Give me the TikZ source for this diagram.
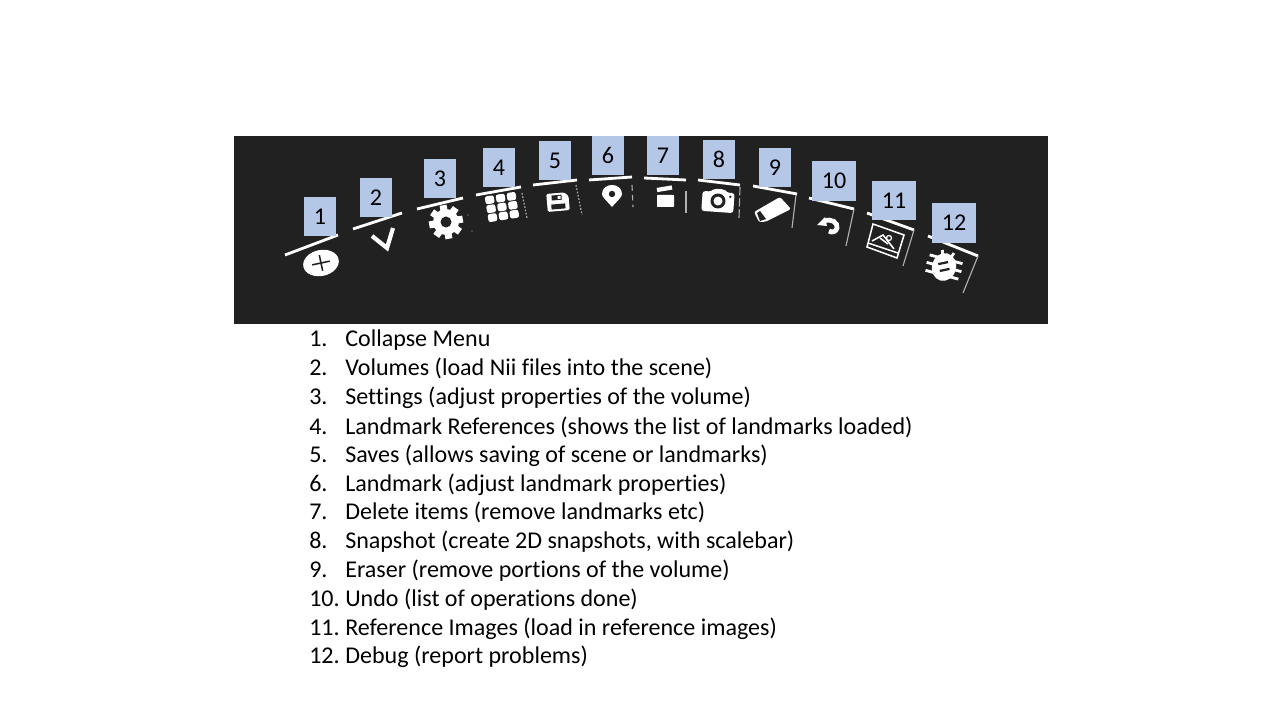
\documentclass[tikz,border=0pt]{standalone}
\usepackage{fontspec}
\setmainfont[Ligatures=NoCommon]{Carlito}
\definecolor{panelgrey}{HTML}{212121}
\definecolor{tagblue}{HTML}{B4C7E7}
\definecolor{sidegrey}{HTML}{B0B0B0}
\tikzset{
  numtag/.style={fill=tagblue,minimum width=0.8cm,minimum height=0.975cm,inner sep=0pt,font=\fontsize{17.1}{20}\selectfont},
  widetag/.style={numtag,minimum width=1.1cm},
  itemno/.style={anchor=base west,inner sep=0pt,font=\fontsize{17.1}{20}\selectfont},
  itemtext/.style={itemno},
  topbar/.style={white,line width=2pt},
  sidebar/.style={sidegrey,line width=0.8pt},
  sidedots/.style={sidebar,dash pattern=on 1.2pt off 1.2pt}
}
\begin{document}
\begin{tikzpicture}[x=0.025cm,y=-0.025cm]
\useasboundingbox (0,0) rectangle (1280,720);

\fill [panelgrey] (234,136) rectangle (1048,324);

% bars above the icons
\draw [topbar] (285,255) -- (338,235);
\draw [topbar] (353,229) -- (402,213);
\draw [topbar] (417,209) -- (463,198);
\draw [topbar] (476,195) -- (521,187);
\draw [topbar] (533,185) -- (577,180);
\draw [topbar] (589,180) -- (632,177);
\draw [topbar] (644,178) -- (686,180);
\draw [topbar] (698,180) -- (740,185);
\draw [topbar] (753,186) -- (797,194);
\draw [topbar] (809,198) -- (854,209);
\draw [topbar] (867,213) -- (914,230);
\draw [topbar] (928,236) -- (978,256);

% thin lines at the right of the icons
\fill [sidegrey] (468,215) circle (0.7) (472,231) circle (0.7);
\draw [sidedots] (522,193) -- (527,218);
\draw [sidedots] (576,185) -- (582,215);
\draw [sidedots,dash pattern=on 4pt off 3pt] (632,185) -- (633,207);
\draw [sidebar] (686,191) -- (686,213);
\draw [sidebar,dash pattern=on 6pt off 2pt] (740,187) -- (739,218);
\draw [sidebar] (796,195) -- (792,228);
\draw [sidebar] (854,209) -- (846,246);
\draw [sidebar] (914,230) -- (903,266);
\draw [sidebar] (978,256) -- (963,293);

% collapse
\begin{scope}[shift={(321,263)},rotate=12]
\fill [white] (0,0) ellipse (18 and 13);
\draw [panelgrey,line width=1.1pt] (-9,0) -- (9,0) (0,-8) -- (0,8);
\end{scope}

% volumes
\draw [white,line width=3pt] (372,236) -- (387,248) -- (393,228);

% settings
\begin{scope}[shift={(446,222)}]
\fill [white] (0,0) circle (13);
\foreach \a in {0,45,...,315}
  \fill [white,rotate=\a+10] (-3.5,-17) rectangle (3.5,-10);
\fill [panelgrey] (0,0) circle (5.5);
\end{scope}

% landmark references
\begin{scope}[shift={(502,207)},rotate=9]
\foreach \i in {-1,0,1}
  \foreach \j in {-1,0,1}
    \fill [white,rounded corners=1.5pt] (11*\i-4.5,9*\j-4) rectangle (11*\i+4.5,9*\j+4);
\end{scope}

% saves
\begin{scope}[shift={(558,202)},rotate=5]
\fill [white,rounded corners=1pt] (-11,-9) -- (7,-9) -- (11,-5) -- (11,9) -- (-11,9) -- cycle;
\fill [panelgrey] (-6,-7) rectangle (4,-2);
\fill [white] (0,-6) rectangle (3,-3);
\fill [panelgrey] (-7,2) rectangle (7,7);
\end{scope}

% landmark
\fill [white] (612,207) .. controls (606,200) and (602,197) .. (602,194) .. controls (602,182) and (622,182) .. (622,194) .. controls (622,197) and (618,200) .. (612,207) -- cycle;
\fill [panelgrey] (612,194) circle (3.2);

% delete items
\draw [white,line width=3pt] (657,190) -- (672,187.5);
\fill [white,rounded corners=0.5pt] (657,195) rectangle (674,207);

% snapshot
\begin{scope}[shift={(718,201)},rotate=-4]
\fill [white,rounded corners=2pt] (-16,-9) -- (-7,-9) -- (-5,-12) -- (6,-12) -- (8,-9) -- (16,-9) -- (16,11) -- (-16,11) -- cycle;
\fill [panelgrey] (0,0) circle (7.5);
\fill [white] (0,0) circle (4.5);
\fill [panelgrey] (12,-5) circle (1.3);
\end{scope}

% eraser
\fill [white,rounded corners=1.5pt] (754,212) -- (780,197) -- (791,209) -- (765,222) -- (759,222) -- cycle;
\fill [panelgrey] (757,213) -- (760,211) -- (766,219) -- (760,221) -- cycle;

% undo
\draw [white,line width=3.4pt] (824,221) .. controls (832,218) and (838,223) .. (837,228) .. controls (836,232) and (832,233) .. (829,231);
\fill [white] (817,225) -- (825,217) -- (827,226) -- cycle;

% reference images
\draw [white,line width=1.1pt] (873,224) -- (904,235) -- (897,258) -- (867,247) -- cycle;
\draw [white,line width=1.1pt] (868,243) -- (898,253);
\draw [white,line width=1.1pt] (872,241) -- (883,235) -- (894,249);
\draw [white,line width=1.1pt] (880,238) -- (888,244);
\draw [white,line width=0.9pt] (889,238) circle (2.5);

% debug
\begin{scope}[shift={(944,267)},rotate=-15]
\draw [white,line width=2pt] (-17,-8) -- (17,-8) (-18,0) -- (18,0) (-17,8) -- (17,8) (-6,-16) -- (-4,-10) (6,-16) -- (4,-10);
\fill [white] (0,0) ellipse (12 and 14);
\end{scope}
\begin{scope}[shift={(944,267)},rotate=12]
\draw [panelgrey,line width=1.6pt] (-5,-4) -- (5,-4) (-5,3) -- (5,3);
\end{scope}

% number tags
\node [numtag] (tag1) at (320,216.5) {1};
\node [numtag] (tag2) at (376,197.5) {2};
\node [numtag] (tag3) at (440,178.5) {3};
\node [numtag] (tag4) at (499,167.5) {4};
\node [numtag] (tag5) at (555,160.5) {5};
\node [numtag] (tag6) at (608,155.5) {6};
\node [numtag] (tag7) at (663,155.5) {7};
\node [numtag] (tag8) at (719,159.5) {8};
\node [numtag] (tag9) at (775,167.5) {9};
\node [widetag] (tag10) at (834,181) {10};
\node [widetag] (tag11) at (894,200.5) {11};
\node [widetag] (tag12) at (954,223) {12};

% list below the panel
\node [itemno] (no1) at (309,347) {1.};
\node [itemtext] (item1) at (345,347) {Collapse Menu};
\node [itemno] (no2) at (309,376) {2.};
\node [itemtext] (item2) at (345,376) {Volumes (load Nii files into the scene)};
\node [itemno] (no3) at (309,405) {3.};
\node [itemtext] (item3) at (345,405) {Settings (adjust properties of the volume)};
\node [itemno] (no4) at (309,434) {4.};
\node [itemtext] (item4) at (345,434) {Landmark References (shows the list of landmarks loaded)};
\node [itemno] (no5) at (309,462) {5.};
\node [itemtext] (item5) at (345,462) {Saves (allows saving of scene or landmarks)};
\node [itemno] (no6) at (309,491) {6.};
\node [itemtext] (item6) at (345,491) {Landmark (adjust landmark properties)};
\node [itemno] (no7) at (309,519) {7.};
\node [itemtext] (item7) at (345,519) {Delete items (remove landmarks etc)};
\node [itemno] (no8) at (309,548) {8.};
\node [itemtext] (item8) at (345,548) {Snapshot (create 2D snapshots, with scalebar)};
\node [itemno] (no9) at (309,577) {9.};
\node [itemtext] (item9) at (345,577) {Eraser (remove portions of the volume)};
\node [itemno] (no10) at (309,606) {10.};
\node [itemtext] (item10) at (345,606) {Undo (list of operations done)};
\node [itemno] (no11) at (309,635) {11.};
\node [itemtext] (item11) at (345,635) {Reference Images (load in reference images)};
\node [itemno] (no12) at (309,663) {12.};
\node [itemtext] (item12) at (345,663) {Debug (report problems)};

\end{tikzpicture}
\end{document}
